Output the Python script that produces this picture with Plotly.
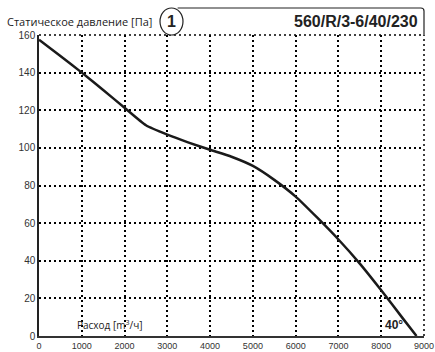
import plotly.graph_objects as go

# Data
flow = [0, 500, 1000, 1500, 2000, 2500, 3000, 3500, 4000, 4500, 5000, 5500, 6000, 6500, 7000, 7500, 8000, 8500, 8825]
pressure = [157.5, 148.8, 140, 130.8, 121.3, 112, 107.0, 102.8, 99.0, 95.3, 90.4, 83, 74.1, 63, 51.3, 38.5, 24.3, 9.5, 0]

x_ticks = [0, 1000, 2000, 3000, 4000, 5000, 6000, 7000, 8000, 9000]
y_ticks = [0, 20, 40, 60, 80, 100, 120, 140, 160]

title_text = "Статическое давление [Па]"
model_text = "560/R/3-6/40/230"
number_text = "1"
xlabel_text = "Расход [m<sup>3</sup>/ч]"
angle_text = "40°"

GRID_DASH = "2px,3px"
GRID_W = 1.5

fig = go.Figure()
fig.add_trace(go.Scatter(
    x=flow, y=pressure, mode="lines",
    line=dict(color="#1a1a1a", width=2.5, shape="spline", smoothing=0.5),
    hoverinfo="skip", showlegend=False,
))

fig.update_layout(
    width=435, height=352,
    margin=dict(l=39, r=11, t=35, b=16),
    paper_bgcolor="white", plot_bgcolor="white",
    font=dict(family="Liberation Sans, Arial, sans-serif", color="#222"),
    xaxis=dict(
        range=[0, 9000], tickvals=x_ticks, ticktext=[str(v) for v in x_ticks],
        showgrid=True, gridcolor="#000", griddash=GRID_DASH, gridwidth=GRID_W,
        showline=True, linecolor="#333", linewidth=2, zeroline=False,
        ticks="", tickfont=dict(size=9, color="#333"), fixedrange=True,
        automargin=False,
    ),
    yaxis=dict(
        range=[0, 160], tickvals=y_ticks, ticktext=[str(v) for v in y_ticks],
        showgrid=True, gridcolor="#000", griddash=GRID_DASH, gridwidth=GRID_W,
        showline=True, linecolor="#222", linewidth=1.5, zeroline=False,
        ticks="", tickfont=dict(size=10, color="#333"), fixedrange=True,
        automargin=False,
    ),
)

# top and right grid edges (dotted)
fig.add_shape(type="line", xref="paper", yref="paper", x0=0, x1=1, y0=1, y1=1,
              line=dict(color="#000", width=GRID_W, dash=GRID_DASH), layer="below")
fig.add_shape(type="line", xref="paper", yref="paper", x0=1, x1=1, y0=0, y1=1,
              line=dict(color="#000", width=GRID_W, dash=GRID_DASH), layer="below")

# header decoration (paper coords): box + circled number
fig.add_shape(type="path", xref="paper", yref="paper",
              path="M 0.36 1.0897 L 0.992 1.0897 Q 1.0 1.0897 1.0 1.08 L 1.0 1.0",
              line=dict(color="#222", width=1.2))
fig.add_shape(type="circle", xref="paper", yref="paper",
              x0=0.3143, x1=0.374, y0=1.0, y1=1.0897,
              line=dict(color="#222", width=1.2), fillcolor="white")

fig.add_annotation(xref="paper", yref="paper", x=0.344, y=1.045, text="<b>" + number_text + "</b>",
                   showarrow=False, font=dict(family="Liberation Sans Narrow, Liberation Sans", size=16, color="#222"),
                   xanchor="center", yanchor="middle")
fig.add_annotation(xref="paper", yref="paper", x=0.99, y=1.045, text="<b>" + model_text + "</b>",
                   showarrow=False, font=dict(family="Liberation Sans Narrow, Liberation Sans", size=16, color="#222"),
                   xanchor="right", yanchor="middle")
fig.add_annotation(xref="paper", yref="paper", x=-0.088, y=1.045, text=title_text,
                   showarrow=False, font=dict(family="Open Sans, Noto Sans", size=11, color="#222"),
                   xanchor="left", yanchor="middle")
fig.add_annotation(x=840, y=5.8, text=xlabel_text, showarrow=False,
                   font=dict(family="Open Sans, Noto Sans", size=10, color="#222"),
                   xanchor="left", yanchor="middle")
fig.add_annotation(x=8030, y=5.8, text="<b>" + angle_text + "</b>", showarrow=False,
                   font=dict(family="Liberation Sans, Arial", size=12, color="#222"),
                   xanchor="left", yanchor="middle")

fig.write_html("out.html")
